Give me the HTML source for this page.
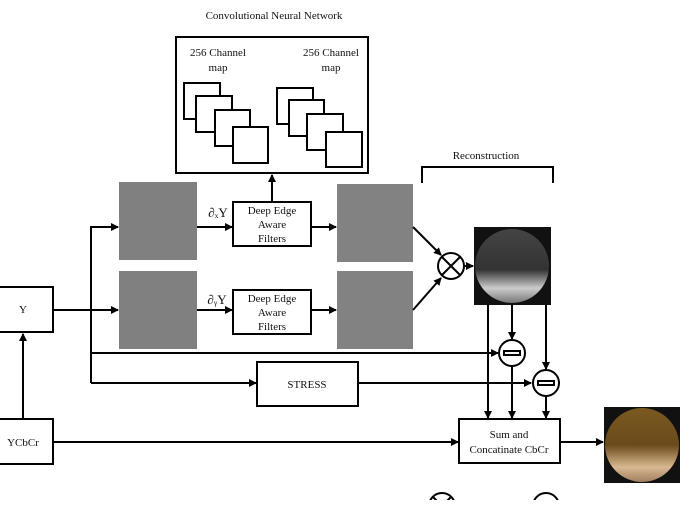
<!DOCTYPE html>
<html><head><style>
body{margin:0;background:#fff;width:680px;height:500px;overflow:hidden}
svg text{font-family:"Liberation Serif",serif;fill:#111}
</style></head><body>
<svg width="680" height="500" viewBox="0 0 680 500" xmlns="http://www.w3.org/2000/svg">
<defs>
<marker id="a" markerWidth="8" markerHeight="8" refX="7" refY="4" orient="auto" markerUnits="userSpaceOnUse"><path d="M0,0L8,4L0,8z" fill="#000"/></marker>
<radialGradient id="g1" cx="0.5" cy="0.45" r="0.5"><stop offset="0" stop-color="#555"/><stop offset="0.5" stop-color="#3a3a3a"/><stop offset="0.8" stop-color="#bbb"/><stop offset="1" stop-color="#111"/></radialGradient>
<linearGradient id="g1b" x1="0" y1="0" x2="0" y2="1"><stop offset="0" stop-color="#444"/><stop offset="0.55" stop-color="#333"/><stop offset="0.8" stop-color="#ccc"/><stop offset="1" stop-color="#777"/></linearGradient>
<linearGradient id="g2" x1="0" y1="0" x2="0" y2="1"><stop offset="0" stop-color="#7a5a20"/><stop offset="0.5" stop-color="#6a4a1a"/><stop offset="0.8" stop-color="#d8b890"/><stop offset="1" stop-color="#a08060"/></linearGradient>
</defs>
<g stroke="#000" stroke-width="2" fill="none">
<text x="274" y="19" font-size="11" text-anchor="middle" stroke="none">Convolutional Neural Network</text>
<rect x="176" y="37" width="192" height="136" fill="#fff"/>
<g fill="#fff">
<rect x="184" y="83" width="36" height="36"/><rect x="196" y="96" width="36" height="36"/><rect x="215" y="110" width="35" height="36"/><rect x="233" y="127" width="35" height="36"/>
<rect x="277" y="88" width="36" height="36"/><rect x="289" y="100" width="35" height="36"/><rect x="307" y="114" width="36" height="36"/><rect x="326" y="132" width="36" height="35"/>
</g>
<g stroke="none" font-size="11" text-anchor="middle">
<text x="218" y="56">256 Channel</text><text x="218" y="71">map</text>
<text x="331" y="56">256 Channel</text><text x="331" y="71">map</text>
<text x="486" y="159">Reconstruction</text>
</g>
<path d="M422,183V167H553V183"/>
<rect x="119" y="182" width="78" height="78" fill="#808080" stroke="none"/>
<rect x="119" y="271" width="78" height="78" fill="#808080" stroke="none"/>
<rect x="337" y="184" width="76" height="78" fill="#828282" stroke="none"/>
<rect x="337" y="271" width="76" height="78" fill="#828282" stroke="none"/>
<rect x="474" y="227" width="77" height="78" fill="#111" stroke="none"/>
<circle cx="512" cy="266" r="37" fill="url(#g1b)" stroke="none"/>
<rect x="604" y="407" width="76" height="76" fill="#111" stroke="none"/>
<circle cx="642" cy="445" r="37" fill="url(#g2)" stroke="none"/>
<rect x="233" y="202" width="78" height="44" fill="#fff"/>
<rect x="233" y="290" width="78" height="44" fill="#fff"/>
<g stroke="none" font-size="11" text-anchor="middle">
<text x="272" y="214">Deep Edge</text><text x="272" y="228">Aware</text><text x="272" y="242">Filters</text>
<text x="272" y="302">Deep Edge</text><text x="272" y="316">Aware</text><text x="272" y="330">Filters</text>
<text x="218" y="217" font-size="13">∂ₓY</text><text x="217" y="304" font-size="13">∂ᵧY</text>
</g>
<path d="M272,202V175" marker-end="url(#a)"/>
<path d="M197,227H232" marker-end="url(#a)"/><path d="M197,310H232" marker-end="url(#a)"/>
<path d="M311,227H336" marker-end="url(#a)"/><path d="M311,310H336" marker-end="url(#a)"/>
<rect x="-2" y="287" width="55" height="45" fill="#fff"/>
<text x="23" y="313" font-size="11" text-anchor="middle" stroke="none">Y</text>
<rect x="-2" y="419" width="55" height="45" fill="#fff"/>
<text x="23" y="446" font-size="11" text-anchor="middle" stroke="none">YCbCr</text>
<path d="M23,419V334" marker-end="url(#a)"/>
<path d="M53,310H118" marker-end="url(#a)"/>
<path d="M91,383V227H118" marker-end="url(#a)"/>
<path d="M91,353H498" marker-end="url(#a)"/>
<path d="M91,383H256" marker-end="url(#a)"/>
<rect x="257" y="362" width="101" height="44" fill="#fff"/>
<text x="307" y="388" font-size="11" text-anchor="middle" stroke="none">STRESS</text>
<path d="M358,383H531" marker-end="url(#a)"/>
<path d="M413,227L441,255" marker-end="url(#a)"/><path d="M413,310L441,278" marker-end="url(#a)"/>
<circle cx="451" cy="266" r="13" fill="#fff"/><path d="M442,257L460,275M460,257L442,275"/>
<path d="M464,266H473" marker-end="url(#a)"/>
<path d="M488,305V418" marker-end="url(#a)"/>
<path d="M512,305V339" marker-end="url(#a)"/><path d="M512,366V418" marker-end="url(#a)"/>
<path d="M546,305V369" marker-end="url(#a)"/><path d="M546,396V418" marker-end="url(#a)"/>
<circle cx="512" cy="353" r="13" fill="#fff"/><rect x="504" y="351" width="16" height="4"/>
<circle cx="546" cy="383" r="13" fill="#fff"/><rect x="538" y="381" width="16" height="4"/>
<path d="M53,442H458" marker-end="url(#a)"/>
<rect x="459" y="419" width="101" height="44" fill="#fff"/>
<g stroke="none" font-size="11" text-anchor="middle"><text x="509" y="438">Sum and</text><text x="509" y="453">Concatinate CbCr</text></g>
<path d="M560,442H603" marker-end="url(#a)"/>
<circle cx="442" cy="506" r="13"/><path d="M433,497L451,515M451,497L433,515"/>
<circle cx="546" cy="506" r="13"/>
</g>
</svg>
</body></html>
